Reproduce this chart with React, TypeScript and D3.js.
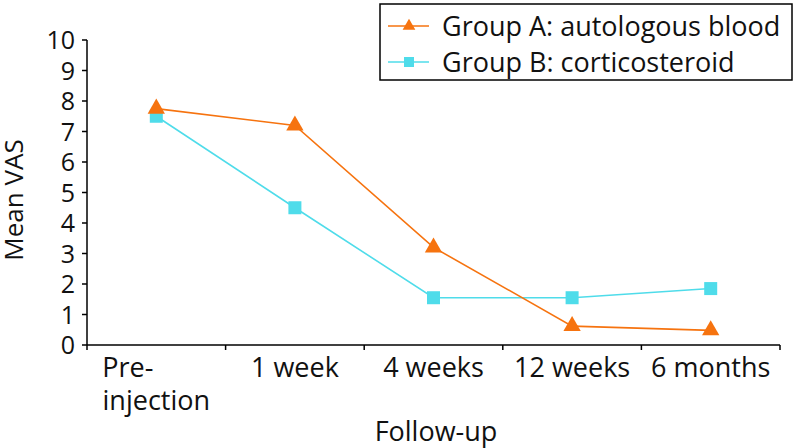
import React from "react";
import * as d3 from "d3";

const categories = ["Pre-injection", "1 week", "4 weeks", "12 weeks", "6 months"];
const groupA = [7.75, 7.2, 3.2, 0.62, 0.48];
const groupB = [7.5, 4.5, 1.55, 1.55, 1.85];
const yTicks = [0, 1, 2, 3, 4, 5, 6, 7, 8, 9, 10];
const seriesNames = ["Group A: autologous blood", "Group B: corticosteroid"];

const W = 794, H = 448;
const left = 87, right = 780, top = 40, bottom = 345;
const orange = "#F6730F";
const cyan = "#4FDCEA";
const font = "'Open Sans', sans-serif";
const fs = 27;
const fsY = 25;

export default function App() {
  const x = d3.scaleBand<string>().domain(categories).range([left, right]);
  const y = d3.scaleLinear().domain([0, 10]).range([bottom, top]);
  const cx = (c: string) => (x(c) as number) + x.bandwidth() / 2;
  const line = d3.line<number>().x((_, i) => cx(categories[i])).y((d) => y(d));
  const tri = d3.symbol().type(d3.symbolTriangle).size(130)() as string;
  const triL = d3.symbol().type(d3.symbolTriangle).size(70)() as string;
  const boundaries = [...categories.map((c) => x(c) as number), right];

  return (
    <svg width={W} height={H} style={{ position: "absolute", left: 0, top: 0 }} fontFamily={font} fill="#111">
      <rect width={W} height={H} fill="#fff" />
      {/* y axis */}
      <line x1={left} x2={left} y1={top} y2={bottom} stroke="#000" strokeWidth={1.5} />
      {yTicks.map((t) => (
        <g key={t}>
          <line x1={left - 5} x2={left} y1={y(t)} y2={y(t)} stroke="#000" strokeWidth={1.5} />
          <text x={left - 12} y={y(t)} dy="0.36em" textAnchor="end" fontSize={fsY}>
            {t}
          </text>
        </g>
      ))}
      {/* x axis */}
      <line x1={left} x2={right} y1={bottom} y2={bottom} stroke="#000" strokeWidth={1.5} />
      {boundaries.map((b, i) => (
        <line key={i} x1={b} x2={b} y1={bottom} y2={bottom + 5} stroke="#000" strokeWidth={1.5} />
      ))}
      {categories.map((c, i) =>
        i === 0 ? (
          <g key={c}>
            <text x={cx(c) - 54} y={377} textAnchor="start" fontSize={fs}>Pre-</text>
            <text x={cx(c)} y={410} textAnchor="middle" fontSize={fs}>injection</text>
          </g>
        ) : (
          <text key={c} x={cx(c)} y={377} textAnchor="middle" fontSize={fs}>
            {c}
          </text>
        )
      )}
      <text x={436} y={441} textAnchor="middle" fontSize={fs}>Follow-up</text>
      <text transform={`translate(23,200) rotate(-90)`} textAnchor="middle" fontSize={26}>
        Mean VAS
      </text>
      {/* series B */}
      <path d={line(groupB) as string} fill="none" stroke={cyan} strokeWidth={1.6} />
      {groupB.map((v, i) => (
        <rect key={i} x={cx(categories[i]) - 6.5} y={y(v) - 6.5} width={13} height={13} fill={cyan} />
      ))}
      {/* series A */}
      <path d={line(groupA) as string} fill="none" stroke={orange} strokeWidth={1.6} />
      {groupA.map((v, i) => (
        <path key={i} d={tri} transform={`translate(${cx(categories[i])},${y(v)})`} fill={orange} />
      ))}
      {/* legend */}
      <rect x={380} y={4} width={412} height={76} fill="#fff" stroke="#000" strokeWidth={1.5} />
      <line x1={388} x2={429} y1={26} y2={26} stroke={orange} strokeWidth={1.6} />
      <path d={triL} transform="translate(409,26)" fill={orange} />
      <text x={442} y={26} dy="0.36em" fontSize={fs}>{seriesNames[0]}</text>
      <line x1={388} x2={429} y1={62} y2={62} stroke={cyan} strokeWidth={1.6} />
      <rect x={404} y={57} width={10} height={10} fill={cyan} />
      <text x={442} y={62} dy="0.36em" fontSize={fs}>{seriesNames[1]}</text>
    </svg>
  );
}
